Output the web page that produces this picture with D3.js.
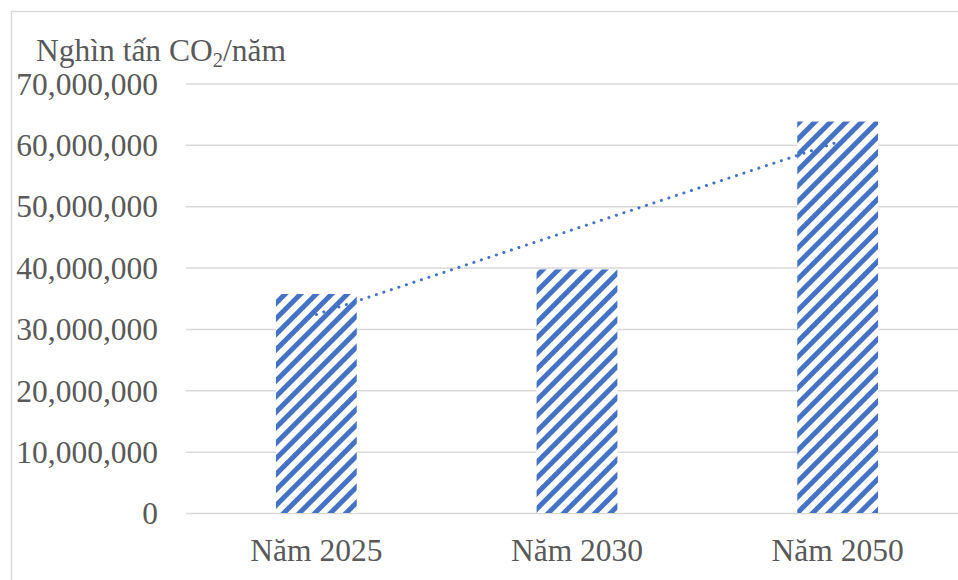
<!DOCTYPE html>
<html>
<head>
<meta charset="utf-8">
<script src="https://cdn.jsdelivr.net/npm/d3@7"></script>
<style>
	html, body { margin: 0; padding: 0; background: #fff; }
	svg { display: block; }
	.tick text, .label, .unit { font-family: "Liberation Serif", "Times New Roman", serif; fill: #595959; }
</style>
</head>
<body>
<div id="chart"></div>
<script>
// data
const categories = ['Năm 2025', 'Năm 2030', 'Năm 2050'];
const values = [35700000, 39700000, 63800000];
const yTicks = [0, 10000000, 20000000, 30000000, 40000000, 50000000, 60000000, 70000000];
const unitLabel = ['Nghìn tấn CO', '2', '/năm'];

const options = {
	w: 958,
	h: 580,
	plotLeft: 186,
	plotRight: 968,
	plotTop: 83.5,
	plotBottom: 513,
	barPadding: 0.69,
	fontSize: 31.5,
	blue: '#4472C4',
	grid: '#d9d9d9'
};

const svg = d3.select('#chart')
	.append('svg')
	.attr('width', options.w)
	.attr('height', options.h)
	.attr('viewBox', `0 0 ${options.w} ${options.h}`);

// hatch fill (wide upward diagonal)
const pattern = svg.append('defs')
	.append('pattern')
	.attr('id', 'hatch')
	.attr('patternUnits', 'userSpaceOnUse')
	.attr('width', 11)
	.attr('height', 11)
	.attr('patternTransform', 'rotate(45)');
pattern.append('rect').attr('width', 11).attr('height', 11).attr('fill', '#fff');
pattern.append('rect').attr('width', 5).attr('height', 11).attr('fill', options.blue);

// chart area border (left + top visible)
svg.append('path')
	.attr('d', `M11.5,${options.h} V11.5 H${options.w}`)
	.attr('fill', 'none')
	.attr('stroke', options.grid)
	.attr('stroke-width', 1.5);

const xScale = d3.scaleBand()
	.domain(categories)
	.range([options.plotLeft, options.plotRight])
	.paddingInner(options.barPadding)
	.paddingOuter(options.barPadding / 2);

const yScale = d3.scaleLinear()
	.domain([0, 70000000])
	.range([options.plotBottom, options.plotTop]);

// y axis + gridlines
const yAxis = d3.axisLeft(yScale)
	.tickValues(yTicks)
	.tickFormat(d3.format(','))
	.tickSize(-(options.plotRight - options.plotLeft))
	.tickPadding(28);

const gy = svg.append('g')
	.attr('class', 'yAxis')
	.attr('transform', `translate(${options.plotLeft},0)`)
	.call(yAxis);
gy.select('.domain').remove();
gy.selectAll('.tick line').attr('stroke', options.grid).attr('stroke-width', 1.5);
gy.selectAll('.tick text')
	.attr('font-size', options.fontSize)
	.attr('dy', '0.34em');

// bars
svg.selectAll('.bar')
	.data(values)
	.enter()
	.append('rect')
	.attr('class', 'bar')
	.attr('x', (d, i) => xScale(categories[i]))
	.attr('y', d => yScale(d))
	.attr('width', xScale.bandwidth())
	.attr('height', d => options.plotBottom - yScale(d))
	.attr('fill', 'url(#hatch)');

// x axis labels
const xAxis = d3.axisBottom(xScale).tickSize(0).tickPadding(0);
const gx = svg.append('g')
	.attr('class', 'xAxis')
	.attr('transform', `translate(0,${options.plotBottom})`)
	.call(xAxis);
gx.select('.domain').remove();
gx.selectAll('.tick text')
	.attr('font-size', options.fontSize)
	.attr('y', 48)
	.attr('dy', 0);

// linear trendline (least squares over category index)
const xs = values.map((d, i) => i + 1);
const mx = d3.mean(xs), my = d3.mean(values);
const slope = d3.sum(xs, (x, i) => (x - mx) * (values[i] - my)) / d3.sum(xs, x => (x - mx) * (x - mx));
const icpt = my - slope * mx;
const trend = xs.map((x, i) => [xScale(categories[i]) + xScale.bandwidth() / 2, yScale(icpt + slope * x)]);

svg.append('path')
	.datum([trend[0], trend[trend.length - 1]])
	.attr('d', d3.line())
	.attr('fill', 'none')
	.attr('stroke', options.blue)
	.attr('stroke-width', 3)
	.attr('stroke-linecap', 'round')
	.attr('stroke-dasharray', '0.1 7.8');

// unit label
const unit = svg.append('text')
	.attr('class', 'unit')
	.attr('x', 36)
	.attr('y', 61)
	.attr('font-size', options.fontSize);
unit.append('tspan').text(unitLabel[0]);
unit.append('tspan').attr('font-size', options.fontSize * 0.65).attr('dy', 6).text(unitLabel[1]);
unit.append('tspan').attr('dy', -6).text(unitLabel[2]);
</script>
</body>
</html>
